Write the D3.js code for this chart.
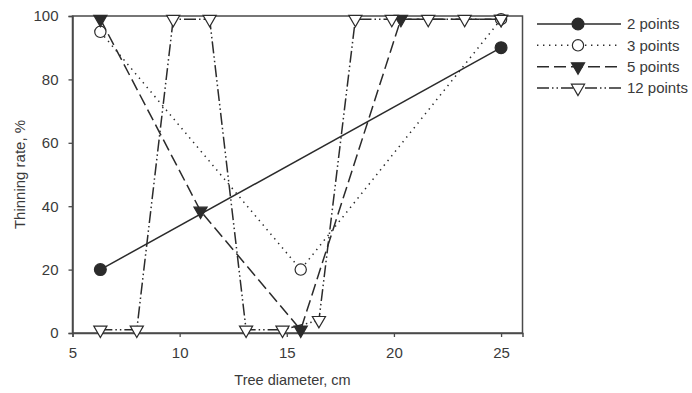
<!DOCTYPE html>
<html>
<head>
<meta charset="utf-8">
<script src="https://cdn.jsdelivr.net/npm/d3@7"></script>
<style>
  html, body { margin: 0; padding: 0; background: #fff; }
  svg { display: block; font-family: "Liberation Sans", Arial, sans-serif; }
</style>
</head>
<body>
<svg id="chart" width="692" height="393"></svg>
<script>
// Thinning rate vs. tree diameter for different numbers of sample points
const xTicks = [5, 10, 15, 20, 25];
const yTicks = [0, 20, 40, 60, 80, 100];

const seriesNames = ["2 points", "3 points", "5 points", "12 points"];

const diam2 = [6.3, 25];
const rate2 = [20, 90];

const diam3 = [6.3, 15.65, 25];
const rate3 = [95, 20, 99];

const diam5 = [6.3, 10.975, 15.65, 20.325, 25];
const rate5 = [99, 38.5, 1, 99, 99];

const diam12 = [6.3, 8.0, 9.7, 11.4, 13.1, 14.8, 16.5, 18.2, 19.9, 21.6, 23.3, 25.0];
const rate12 = [1, 1, 99, 99, 1, 1, 4, 99, 99, 99, 99, 99];

const ink = "#2b2b2b";
const axisInk = "#4a4a4a";
const textInk = "#3a3a3a";

const series = [
  { name: seriesNames[0], x: diam2, y: rate2, dash: null, symbol: d3.symbolCircle, fill: ink, rotate: 0, size: 110 },
  { name: seriesNames[1], x: diam3, y: rate3, dash: "1.4,4.6", symbol: d3.symbolCircle, fill: "#fff", rotate: 0, size: 100 },
  { name: seriesNames[2], x: diam5, y: rate5, dash: "12,5", symbol: d3.symbolTriangle, fill: ink, rotate: 180, size: 75 },
  { name: seriesNames[3], x: diam12, y: rate12, dash: "12,3,1.5,3,1.5,3", symbol: d3.symbolTriangle, fill: "#fff", rotate: 180, size: 75 }
];

const svg = d3.select("#chart");
const plot = { left: 72.5, right: 522.5, top: 16, bottom: 333 };

const x = d3.scaleLinear().domain([5, 26]).range([plot.left, plot.right]);
const y = d3.scaleLinear().domain([0, 100]).range([plot.bottom, plot.top]);

// Frame
svg.append("rect")
  .attr("x", plot.left).attr("y", plot.top)
  .attr("width", plot.right - plot.left).attr("height", plot.bottom - plot.top)
  .attr("fill", "none").attr("stroke", axisInk).attr("stroke-width", 1.5);

// Axes
const xAxis = svg.append("g")
  .attr("transform", `translate(0,${plot.bottom})`)
  .call(d3.axisBottom(x).tickValues(xTicks).tickSize(4).tickPadding(10).tickFormat(d3.format("d")));
const yAxis = svg.append("g")
  .attr("transform", `translate(${plot.left},0)`)
  .call(d3.axisLeft(y).tickValues(yTicks).tickSize(4).tickPadding(10).tickFormat(d3.format("d")));

[xAxis, yAxis].forEach(a => {
  a.select(".domain").attr("stroke", axisInk).attr("stroke-width", 1.5);
  a.selectAll(".tick line").attr("stroke", axisInk).attr("stroke-width", 1.3);
  a.selectAll(".tick text").attr("fill", textInk).style("font-size", "15px")
    .style("font-family", "'Liberation Sans', Arial, sans-serif");
});

// Axis titles
svg.append("text")
  .attr("x", (plot.left + plot.right) / 2 - 5).attr("y", 385)
  .attr("text-anchor", "middle").attr("fill", textInk).style("font-size", "14.5px")
  .text("Tree diameter, cm");
svg.append("text")
  .attr("transform", `translate(25,${(plot.top + plot.bottom) / 2}) rotate(-90)`)
  .attr("text-anchor", "middle").attr("fill", textInk).style("font-size", "15px")
  .text("Thinning rate, %");

// Lines and markers
const line = d3.line().x(d => x(d[0])).y(d => y(d[1]));

series.forEach(s => {
  const pts = s.x.map((v, i) => [v, s.y[i]]);
  svg.append("path")
    .datum(pts)
    .attr("d", line)
    .attr("fill", "none")
    .attr("stroke", ink)
    .attr("stroke-width", 1.5)
    .attr("stroke-dasharray", s.dash);
});

series.forEach(s => {
  const pts = s.x.map((v, i) => [v, s.y[i]]);
  svg.append("g").selectAll("path")
    .data(pts)
    .join("path")
    .attr("d", d3.symbol().type(s.symbol).size(s.size))
    .attr("transform", d => `translate(${x(d[0])},${y(d[1])}) rotate(${s.rotate})`)
    .attr("fill", s.fill)
    .attr("stroke", ink)
    .attr("stroke-width", 1.2);
});

// Legend
const legend = svg.append("g");
const rowY = d3.scalePoint().domain(seriesNames).range([24, 88]);
series.forEach(s => {
  const g = legend.append("g").attr("transform", `translate(0,${rowY(s.name)})`);
  g.append("line")
    .attr("x1", 537).attr("x2", 621).attr("y1", 0).attr("y2", 0)
    .attr("stroke", ink).attr("stroke-width", 1.5)
    .attr("stroke-dasharray", s.dash);
  g.append("path")
    .attr("d", d3.symbol().type(s.symbol).size(s.size))
    .attr("transform", `translate(578,0) rotate(${s.rotate})`)
    .attr("fill", s.fill).attr("stroke", ink).attr("stroke-width", 1.2);
  g.append("text")
    .attr("x", 627).attr("y", 0).attr("dy", "0.35em")
    .attr("fill", textInk).style("font-size", "15px")
    .text(s.name);
});
</script>
</body>
</html>
